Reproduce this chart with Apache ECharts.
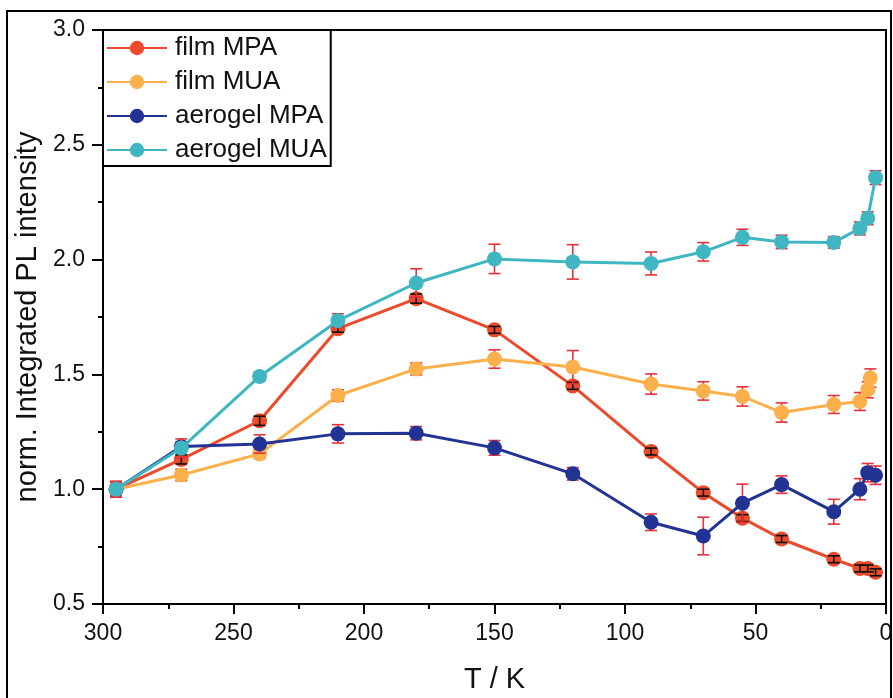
<!DOCTYPE html>
<html>
<head>
<meta charset="utf-8">
<title>Integrated PL intensity vs temperature</title>
<script src="https://cdn.jsdelivr.net/npm/echarts@6/dist/echarts.min.js"></script>
<style>
  html, body { margin: 0; padding: 0; background: #fff; }
  #chart { width: 893px; height: 698px; }
</style>
</head>
<body>
<div id="chart"></div>
<script>
// Temperatures (K)
const temps = [295, 270, 240, 210, 180, 150, 120, 90, 70, 55, 40, 20, 10, 7, 4];
const tempsFilmMUA = [295, 270, 240, 210, 180, 150, 120, 90, 70, 55, 40, 20, 10, 7, 6];

// Normalised integrated PL intensity and its uncertainty
const filmMPA = [1.00, 1.13, 1.298, 1.699, 1.830, 1.694, 1.450, 1.164, 0.985, 0.874, 0.783, 0.695, 0.655, 0.655, 0.638];
const filmMPAErr = [0.02, 0.02, 0.02, 0.015, 0.02, 0.015, 0.015, 0.015, 0.015, 0.015, 0.015, 0.015, 0.015, 0.015, 0.015];

const filmMUA = [1.00, 1.062, 1.154, 1.408, 1.524, 1.567, 1.532, 1.458, 1.428, 1.404, 1.334, 1.369, 1.382, 1.433, 1.484];
const filmMUAErr = [0.03, 0.025, 0.02, 0.025, 0.026, 0.04, 0.072, 0.044, 0.04, 0.042, 0.042, 0.039, 0.039, 0.035, 0.04];

const aerogelMPA = [1.00, 1.186, 1.197, 1.241, 1.244, 1.180, 1.067, 0.856, 0.796, 0.939, 1.020, 0.902, 1.000, 1.072, 1.061];
const aerogelMPAErr = [0.035, 0.02, 0.04, 0.04, 0.029, 0.032, 0.027, 0.036, 0.082, 0.083, 0.038, 0.054, 0.046, 0.04, 0.04];

const aerogelMUA = [1.00, 1.179, 1.491, 1.734, 1.898, 2.003, 1.990, 1.983, 2.034, 2.097, 2.077, 2.075, 2.136, 2.180, 2.357];
const aerogelMUAErr = [0.03, 0.04, 0.02, 0.03, 0.062, 0.064, 0.075, 0.05, 0.04, 0.035, 0.029, 0.025, 0.028, 0.028, 0.03];

const seriesNames = ['film MPA', 'film MUA', 'aerogel MPA', 'aerogel MUA'];
const seriesColors = ['#EC4A2A', '#FBB04C', '#233393', '#3FB6C1'];

const FONT = '"Liberation Sans", Arial, Helvetica, sans-serif';

function pairs(xs, ys) {
  return xs.map((x, i) => [x, ys[i]]);
}
function errData(xs, ys, es) {
  return xs.map((x, i) => [x, ys[i] - es[i], ys[i] + es[i]]);
}

// Vertical error bar with horizontal caps
function errorBarSeries(xs, ys, es, color, z) {
  return {
    type: 'custom',
    z: z,
    silent: true,
    data: errData(xs, ys, es),
    encode: { x: 0, y: [1, 2] },
    renderItem: function (params, api) {
      const x = api.value(0);
      const lo = api.coord([x, api.value(1)]);
      const hi = api.coord([x, api.value(2)]);
      const half = 6;
      const style = { stroke: color, lineWidth: 1.6, fill: null };
      return {
        type: 'group',
        children: [
          { type: 'line', shape: { x1: lo[0], y1: lo[1], x2: hi[0], y2: hi[1] }, style: style },
          { type: 'line', shape: { x1: lo[0] - half, y1: lo[1], x2: lo[0] + half, y2: lo[1] }, style: style },
          { type: 'line', shape: { x1: hi[0] - half, y1: hi[1], x2: hi[0] + half, y2: hi[1] }, style: style }
        ]
      };
    }
  };
}

function lineSeries(name, xs, ys, color, z) {
  return {
    name: name,
    type: 'line',
    z: z,
    data: pairs(xs, ys),
    symbol: 'circle',
    symbolSize: 15,
    showAllSymbol: true,
    itemStyle: { color: color },
    lineStyle: { color: color, width: 3 },
    emphasis: { disabled: true },
    animation: false
  };
}

const ERR_RED = '#E8303A';

const chart = echarts.init(document.getElementById('chart'), null, { renderer: 'canvas' });

const option = {
  animation: false,
  backgroundColor: '#fff',
  grid: {
    left: 103, right: 7, top: 30, bottom: 94,
    outerBoundsMode: 'none',
    containLabel: false,
    show: true, borderColor: '#000', borderWidth: 2, backgroundColor: 'transparent'
  },
  xAxis: {
    type: 'value',
    inverse: true,
    min: 0, max: 300, interval: 50,
    name: 'T / K',
    nameLocation: 'middle',
    nameGap: 61,
    nameTextStyle: { fontFamily: FONT, fontSize: 29, color: '#111' },
    axisLine: { show: true, onZero: false, lineStyle: { color: '#000', width: 2 } },
    axisTick: { show: true, inside: false, length: 10, lineStyle: { color: '#000', width: 2 } },
    minorTick: { show: true, splitNumber: 2, length: 5, lineStyle: { color: '#000', width: 2 } },
    axisLabel: { fontFamily: FONT, fontSize: 23, color: '#111', margin: 18 },
    splitLine: { show: false },
    minorSplitLine: { show: false }
  },
  yAxis: {
    type: 'value',
    min: 0.5, max: 3.0, interval: 0.5,
    name: 'norm. Integrated PL intensity',
    nameLocation: 'middle',
    nameGap: 51,
    nameTextStyle: { fontFamily: FONT, fontSize: 29, color: '#111' },
    axisLine: { show: true, onZero: false, lineStyle: { color: '#000', width: 2 } },
    axisTick: { show: true, inside: false, length: 11, lineStyle: { color: '#000', width: 2 } },
    minorTick: { show: true, splitNumber: 2, length: 5, lineStyle: { color: '#000', width: 2 } },
    axisLabel: {
      fontFamily: FONT, fontSize: 23, color: '#111', margin: 18,
      formatter: v => v.toFixed(1)
    },
    splitLine: { show: false },
    minorSplitLine: { show: false }
  },
  legend: {
    data: seriesNames,
    orient: 'vertical',
    left: 103,
    top: 30,
    padding: [5, 4, 3, 3],
    itemGap: 8,
    itemWidth: 60,
    itemHeight: 18,
    backgroundColor: '#fff',
    borderColor: '#000',
    borderWidth: 2,
    borderRadius: 0,
    selectedMode: false,
    textStyle: { fontFamily: FONT, fontSize: 26, color: '#111', lineHeight: 23, padding: [0, 0, 0, 3] }
  },
  graphic: [
    {
      type: 'rect',
      silent: true,
      z: 100,
      shape: { x: 7, y: 11, width: 884, height: 720 },
      style: { fill: null, stroke: '#000', lineWidth: 2 }
    }
  ],
  series: [
    lineSeries(seriesNames[0], temps, filmMPA, seriesColors[0], 2),
    errorBarSeries(temps, filmMPA, filmMPAErr, '#111', 3),

    errorBarSeries(tempsFilmMUA, filmMUA, filmMUAErr, ERR_RED, 3),
    lineSeries(seriesNames[1], tempsFilmMUA, filmMUA, seriesColors[1], 4),

    errorBarSeries(temps, aerogelMPA, aerogelMPAErr, ERR_RED, 5),
    lineSeries(seriesNames[2], temps, aerogelMPA, seriesColors[2], 6),

    errorBarSeries(temps, aerogelMUA, aerogelMUAErr, ERR_RED, 7),
    lineSeries(seriesNames[3], temps, aerogelMUA, seriesColors[3], 8)
  ]
};

chart.setOption(option);
</script>
</body>
</html>
